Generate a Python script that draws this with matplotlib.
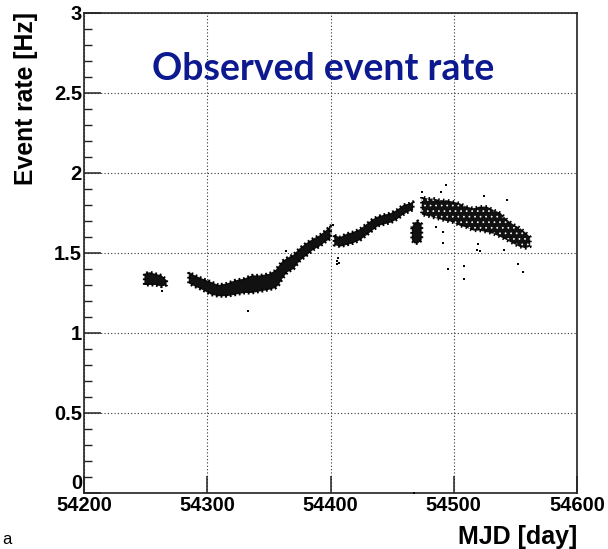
import matplotlib
matplotlib.use('agg')
import matplotlib.pyplot as plt
import matplotlib.ticker as mticker

a_mjd = [54249, 54253, 54258, 54263, 54267]
a_lo = [1.30, 1.30, 1.30, 1.29, 1.30]
a_hi = [1.37, 1.38, 1.37, 1.36, 1.33]

b_mjd = [54285, 54290, 54296, 54303, 54309, 54316, 54323, 54330, 54336, 54343,
         54350, 54355, 54358, 54361, 54365, 54370, 54375, 54380, 54386, 54391,
         54396, 54400]
b_lo = [1.31, 1.29, 1.27, 1.24, 1.23, 1.23, 1.24, 1.25, 1.25, 1.26,
        1.27, 1.28, 1.30, 1.34, 1.38, 1.40, 1.45, 1.48, 1.52, 1.54,
        1.57, 1.59]
b_hi = [1.38, 1.36, 1.34, 1.32, 1.30, 1.31, 1.33, 1.34, 1.36, 1.36,
        1.37, 1.39, 1.42, 1.45, 1.47, 1.49, 1.53, 1.56, 1.59, 1.61,
        1.64, 1.67]

c_mjd = [54403, 54408, 54413, 54418, 54424, 54429, 54434, 54439, 54444, 54449,
         54454, 54459, 54464, 54467]
c_lo = [1.55, 1.54, 1.55, 1.56, 1.58, 1.61, 1.64, 1.67, 1.68, 1.69,
        1.71, 1.74, 1.76, 1.77]
c_hi = [1.61, 1.60, 1.62, 1.63, 1.65, 1.68, 1.71, 1.73, 1.74, 1.75,
        1.77, 1.80, 1.81, 1.82]

d_mjd = [54466, 54468, 54471, 54474]
d_lo = [1.58, 1.56, 1.56, 1.58]
d_hi = [1.66, 1.69, 1.70, 1.68]

e_mjd = [54474, 54479, 54484, 54489, 54494, 54500, 54505, 54510, 54516, 54521,
         54527, 54532, 54538, 54543, 54548, 54553, 54558, 54562]
e_lo = [1.74, 1.73, 1.72, 1.71, 1.70, 1.69, 1.67, 1.66, 1.64, 1.64,
        1.63, 1.62, 1.60, 1.58, 1.56, 1.54, 1.53, 1.54]
e_hi = [1.85, 1.84, 1.84, 1.83, 1.83, 1.82, 1.81, 1.79, 1.78, 1.79,
        1.79, 1.77, 1.75, 1.71, 1.68, 1.66, 1.63, 1.60]

# isolated points
out_mjd = [54263.5, 54333, 54364, 54402, 54405, 54405, 54406, 54406.5,
           54474, 54486, 54490, 54491.5, 54491.5, 54494, 54495, 54508,
           54508.5, 54518.5, 54520, 54521, 54524.5, 54541, 54543, 54552.4,
           54556, 54468]
out_rate = [1.26, 1.14, 1.51, 1.675, 1.43, 1.45, 1.47, 1.44,
            1.88, 1.665, 1.88, 1.63, 1.56, 1.925, 1.40, 1.34,
            1.42, 1.52, 1.555, 1.51, 1.856, 1.52, 1.83, 1.43,
            1.38, 0.0]

x_ticks = [54200, 54300, 54400, 54500, 54600]
y_ticks = [0, 0.5, 1, 1.5, 2, 2.5, 3]

lab_font = 'Liberation Sans'
plt.rcParams['hatch.linewidth'] = 0.5

fig = plt.figure(figsize=(6.08, 5.49), dpi=100)
ax = fig.add_axes([84 / 608, 1 - 493 / 549, 493 / 608, 480 / 549])

for m, lo, hi in [(a_mjd, a_lo, a_hi), (b_mjd, b_lo, b_hi),
                  (c_mjd, c_lo, c_hi), (d_mjd, d_lo, d_hi)]:
    ax.fill_between(m, lo, hi, facecolor='#111111', edgecolor='none',
                    linewidth=0, zorder=3)
    # ragged, dotted outline like the scattered points at the band edge
    ax.fill_between(m, lo, hi, facecolor='none', edgecolor='black',
                    linewidth=2.2, linestyle=(0, (0.6, 0.9)), zorder=3)
ax.fill_between(e_mjd, e_lo, e_hi, facecolor='#111111', edgecolor='white',
                hatch='...', linewidth=0, zorder=3)
ax.fill_between(e_mjd, e_lo, e_hi, facecolor='none', edgecolor='black',
                linewidth=2.2, linestyle=(0, (0.5, 1.1)), zorder=3)
ax.scatter(out_mjd, out_rate, s=2, marker='s', color='black', linewidths=0,
           zorder=4, clip_on=False)

ax.set_xlim(54200, 54600)
ax.set_ylim(0, 3)
ax.xaxis.set_major_locator(mticker.FixedLocator(x_ticks))
ax.yaxis.set_major_locator(mticker.FixedLocator(y_ticks))
ax.yaxis.set_minor_locator(mticker.MultipleLocator(0.1))
ax.xaxis.set_major_formatter(mticker.FuncFormatter(lambda v, p: '%d' % v))
ax.yaxis.set_major_formatter(mticker.FuncFormatter(lambda v, p: '%g' % v))

ax.grid(True, which='major', linestyle=(0, (1, 2)), color='#333333',
        linewidth=0.8, zorder=1)
ax.set_axisbelow(True)
ax.tick_params(axis='y', which='major', direction='in', length=12, width=1.1,
               pad=1.5, color='#222222')
ax.tick_params(axis='y', which='minor', direction='in', length=6, width=1.0,
               color='#222222')
ax.tick_params(axis='x', which='major', direction='in', length=12, width=1.1,
               pad=2, color='#222222')
for lab in ax.get_xticklabels() + ax.get_yticklabels():
    lab.set_fontfamily(lab_font)
    lab.set_fontweight('bold')
    lab.set_fontsize(14.5)
# the "0" of the rate axis sits just above the axis line, as in the original
ax.yaxis.get_major_ticks()[0].label1.set_verticalalignment('bottom')
for s in ax.spines.values():
    s.set_linewidth(1.2)
    s.set_color('#222222')

ax.text(0.138, 0.860, 'Observed event rate', transform=ax.transAxes,
        fontsize=27, family='Lato', fontweight='bold', color='#0d1a8f',
        ha='left', va='baseline', zorder=5)

fig.text(26 / 608, 1 - 12 / 549, 'Event rate [Hz]', rotation=90, ha='center',
         va='top', fontsize=17.8, family=lab_font, fontweight='bold')
fig.text(577 / 608, 1 - 537 / 549, 'MJD [day]', ha='right', va='center',
         fontsize=18, family=lab_font, fontweight='bold')
fig.text(2 / 608, 1 - 540 / 549, 'a', ha='left', va='center', fontsize=12,
         family=lab_font)

fig.savefig('out.png', dpi=100)
